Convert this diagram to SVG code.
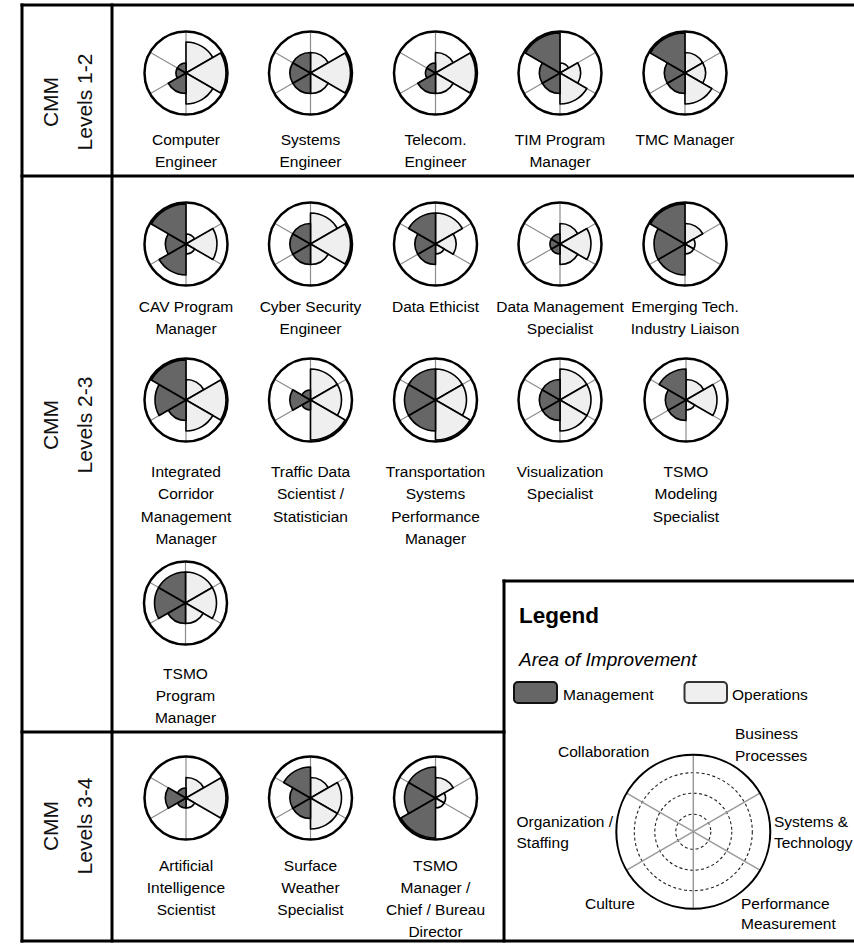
<svg xmlns="http://www.w3.org/2000/svg" width="854" height="944" viewBox="0 0 854 944">
  <style>
    .frame { stroke:#000; stroke-width:3; fill:none; stroke-linecap:square; }
    .bg { fill:#fff; }
    .axis { stroke:#8c8c8c; stroke-width:1.2; }
    .mgmt { fill:#666; stroke:#000; stroke-width:1.6; stroke-linejoin:round; }
    .ops { fill:#efefef; stroke:#000; stroke-width:1.6; stroke-linejoin:round; }
    .rim { fill:none; stroke:#000; stroke-width:2.5; }
    text { font-family:"Liberation Sans", Arial, sans-serif; fill:#000; }
    .lbl { font-size:15.5px; text-anchor:middle; }
    .band { font-size:21px; text-anchor:middle; fill:#111; }
    .legend-title { font-size:22.5px; font-weight:bold; fill:#000; }
    .legend-sub { font-size:19px; font-style:italic; }
    .lg { font-size:15.5px; }
    .ring { fill:none; stroke:#222; stroke-width:1.1; stroke-dasharray:3 2.5; }
    .laxis { stroke:#9a9a9a; stroke-width:1.5; }
  </style>
  <defs>
    <g id="axes" class="axis">
      <line x1="0" y1="-41.5" x2="0" y2="41.5"/>
      <line x1="-35.94" y1="-20.75" x2="35.94" y2="20.75"/>
      <line x1="-35.94" y1="20.75" x2="35.94" y2="-20.75"/>
    </g>
    <!-- sector wedges: bp=business processes, st=systems & technology, pm=performance measurement,
         cu=culture, os=organization/staffing, co=collaboration; suffix = level 1..4 -->
    <path id="bp1" d="M0,0 L0,-10 A10,10 0 0 1 8.66,-5 Z"/>
    <path id="bp2" d="M0,0 L0,-20.5 A20.5,20.5 0 0 1 17.75,-10.25 Z"/>
    <path id="bp3" d="M0,0 L0,-31 A31,31 0 0 1 26.85,-15.5 Z"/>
    <path id="bp4" d="M0,0 L0,-40 A40,40 0 0 1 34.64,-20 Z"/>
    <path id="st1" d="M0,0 L8.66,-5 A10,10 0 0 1 8.66,5 Z"/>
    <path id="st2" d="M0,0 L17.75,-10.25 A20.5,20.5 0 0 1 17.75,10.25 Z"/>
    <path id="st3" d="M0,0 L26.85,-15.5 A31,31 0 0 1 26.85,15.5 Z"/>
    <path id="st4" d="M0,0 L34.64,-20 A40,40 0 0 1 34.64,20 Z"/>
    <path id="pm1" d="M0,0 L8.66,5 A10,10 0 0 1 0,10 Z"/>
    <path id="pm2" d="M0,0 L17.75,10.25 A20.5,20.5 0 0 1 0,20.5 Z"/>
    <path id="pm3" d="M0,0 L26.85,15.5 A31,31 0 0 1 0,31 Z"/>
    <path id="pm4" d="M0,0 L34.64,20 A40,40 0 0 1 0,40 Z"/>
    <path id="cu1" d="M0,0 L0,10 A10,10 0 0 1 -8.66,5 Z"/>
    <path id="cu2" d="M0,0 L0,20.5 A20.5,20.5 0 0 1 -17.75,10.25 Z"/>
    <path id="cu3" d="M0,0 L0,31 A31,31 0 0 1 -26.85,15.5 Z"/>
    <path id="cu4" d="M0,0 L0,40 A40,40 0 0 1 -34.64,20 Z"/>
    <path id="os1" d="M0,0 L-8.66,5 A10,10 0 0 1 -8.66,-5 Z"/>
    <path id="os2" d="M0,0 L-17.75,10.25 A20.5,20.5 0 0 1 -17.75,-10.25 Z"/>
    <path id="os3" d="M0,0 L-26.85,15.5 A31,31 0 0 1 -26.85,-15.5 Z"/>
    <path id="os4" d="M0,0 L-34.64,20 A40,40 0 0 1 -34.64,-20 Z"/>
    <path id="co1" d="M0,0 L-8.66,-5 A10,10 0 0 1 0,-10 Z"/>
    <path id="co2" d="M0,0 L-17.75,-10.25 A20.5,20.5 0 0 1 0,-20.5 Z"/>
    <path id="co3" d="M0,0 L-26.85,-15.5 A31,31 0 0 1 0,-31 Z"/>
    <path id="co4" d="M0,0 L-34.64,-20 A40,40 0 0 1 0,-40 Z"/>
  </defs>

  <!-- frame and band dividers -->
  <g id="frame" class="frame">
    <line x1="22" y1="5" x2="854" y2="5"/>
    <line x1="22" y1="5" x2="22" y2="941"/>
    <line x1="22" y1="941" x2="854" y2="941"/>
    <line x1="112" y1="5" x2="112" y2="941"/>
    <line x1="22" y1="176" x2="854" y2="176"/>
    <line x1="22" y1="732" x2="504" y2="732"/>
    <line x1="504" y1="581" x2="504" y2="941"/>
    <line x1="504" y1="581" x2="854" y2="581"/>
  </g>

  <!-- band titles -->
  <g id="band-1-2">
    <text class="band" transform="translate(58,102) rotate(-90)">CMM</text>
    <text class="band" transform="translate(92,102) rotate(-90)">Levels 1-2</text>
  </g>
  <g id="band-2-3">
    <text class="band" transform="translate(58,425) rotate(-90)">CMM</text>
    <text class="band" transform="translate(92,425) rotate(-90)">Levels 2-3</text>
  </g>
  <g id="band-3-4">
    <text class="band" transform="translate(58,826) rotate(-90)">CMM</text>
    <text class="band" transform="translate(92,826) rotate(-90)">Levels 3-4</text>
  </g>

  <!-- Levels 1-2 -->
  <g id="computer-engineer" transform="translate(186,73)">
    <circle class="bg" r="41.5"/><use href="#axes"/>
    <use href="#bp3" class="ops"/><use href="#st4" class="ops"/><use href="#pm3" class="ops"/>
    <use href="#cu2" class="mgmt"/><use href="#os1" class="mgmt"/><use href="#co1" class="mgmt"/>
    <circle class="rim" r="41.5"/>
    <text class="lbl" y="71.5">Computer<tspan x="0" dy="22">Engineer</tspan></text>
  </g>
  <g id="systems-engineer" transform="translate(310.5,73)">
    <circle class="bg" r="41.5"/><use href="#axes"/>
    <use href="#bp2" class="ops"/><use href="#st4" class="ops"/><use href="#pm2" class="ops"/>
    <use href="#cu2" class="mgmt"/><use href="#os2" class="mgmt"/><use href="#co2" class="mgmt"/>
    <circle class="rim" r="41.5"/>
    <text class="lbl" y="71.5">Systems<tspan x="0" dy="22">Engineer</tspan></text>
  </g>
  <g id="telecom-engineer" transform="translate(435.5,73)">
    <circle class="bg" r="41.5"/><use href="#axes"/>
    <use href="#bp2" class="ops"/><use href="#st4" class="ops"/><use href="#pm2" class="ops"/>
    <use href="#cu2" class="mgmt"/><use href="#os1" class="mgmt"/><use href="#co1" class="mgmt"/>
    <circle class="rim" r="41.5"/>
    <text class="lbl" y="71.5">Telecom.<tspan x="0" dy="22">Engineer</tspan></text>
  </g>
  <g id="tim-program-manager" transform="translate(560,73)">
    <circle class="bg" r="41.5"/><use href="#axes"/>
    <use href="#bp1" class="ops"/><use href="#st2" class="ops"/><use href="#pm3" class="ops"/>
    <use href="#cu2" class="mgmt"/><use href="#os2" class="mgmt"/><use href="#co4" class="mgmt"/>
    <circle class="rim" r="41.5"/>
    <text class="lbl" y="71.5">TIM Program<tspan x="0" dy="22">Manager</tspan></text>
  </g>
  <g id="tmc-manager" transform="translate(685,73)">
    <circle class="bg" r="41.5"/><use href="#axes"/>
    <use href="#bp2" class="ops"/><use href="#st2" class="ops"/><use href="#pm3" class="ops"/>
    <use href="#cu2" class="mgmt"/><use href="#os2" class="mgmt"/><use href="#co4" class="mgmt"/>
    <circle class="rim" r="41.5"/>
    <text class="lbl" y="71.5">TMC Manager</text>
  </g>

  <!-- Levels 2-3 -->
  <g id="cav-program-manager" transform="translate(186,244)">
    <circle class="bg" r="41.5"/><use href="#axes"/>
    <use href="#bp1" class="ops"/><use href="#st3" class="ops"/><use href="#pm1" class="ops"/>
    <use href="#cu3" class="mgmt"/><use href="#os2" class="mgmt"/><use href="#co4" class="mgmt"/>
    <circle class="rim" r="41.5"/>
    <text class="lbl" y="67.5">CAV Program<tspan x="0" dy="22">Manager</tspan></text>
  </g>
  <g id="cyber-security-engineer" transform="translate(310.5,244)">
    <circle class="bg" r="41.5"/><use href="#axes"/>
    <use href="#bp3" class="ops"/><use href="#st4" class="ops"/><use href="#pm2" class="ops"/>
    <use href="#cu2" class="mgmt"/><use href="#os2" class="mgmt"/><use href="#co2" class="mgmt"/>
    <circle class="rim" r="41.5"/>
    <text class="lbl" y="67.5">Cyber Security<tspan x="0" dy="22">Engineer</tspan></text>
  </g>
  <g id="data-ethicist" transform="translate(435.5,244)">
    <circle class="bg" r="41.5"/><use href="#axes"/>
    <use href="#bp3" class="ops"/><use href="#st2" class="ops"/><use href="#pm1" class="ops"/>
    <use href="#cu2" class="mgmt"/><use href="#os2" class="mgmt"/><use href="#co3" class="mgmt"/>
    <circle class="rim" r="41.5"/>
    <text class="lbl" y="67.5">Data Ethicist</text>
  </g>
  <g id="data-management-specialist" transform="translate(560,244)">
    <circle class="bg" r="41.5"/><use href="#axes"/>
    <use href="#bp2" class="ops"/><use href="#st3" class="ops"/><use href="#pm2" class="ops"/>
    <use href="#cu1" class="mgmt"/><use href="#os1" class="mgmt"/><use href="#co1" class="mgmt"/>
    <circle class="rim" r="41.5"/>
    <text class="lbl" y="67.5">Data Management<tspan x="0" dy="22">Specialist</tspan></text>
  </g>
  <g id="emerging-tech-liaison" transform="translate(685,244)">
    <circle class="bg" r="41.5"/><use href="#axes"/>
    <use href="#bp2" class="ops"/><use href="#st1" class="ops"/><use href="#pm1" class="ops"/>
    <use href="#cu3" class="mgmt"/><use href="#os3" class="mgmt"/><use href="#co4" class="mgmt"/>
    <circle class="rim" r="41.5"/>
    <text class="lbl" y="67.5">Emerging Tech.<tspan x="0" dy="22">Industry Liaison</tspan></text>
  </g>

  <g id="icm-manager" transform="translate(186,400)">
    <circle class="bg" r="41.5"/><use href="#axes"/>
    <use href="#bp2" class="ops"/><use href="#st4" class="ops"/><use href="#pm3" class="ops"/>
    <use href="#cu2" class="mgmt"/><use href="#os3" class="mgmt"/><use href="#co4" class="mgmt"/>
    <circle class="rim" r="41.5"/>
    <text class="lbl" y="76.5">Integrated<tspan x="0" dy="22.5">Corridor</tspan><tspan x="0" dy="22.5">Management</tspan><tspan x="0" dy="22.5">Manager</tspan></text>
  </g>
  <g id="traffic-data-scientist" transform="translate(310.5,400)">
    <circle class="bg" r="41.5"/><use href="#axes"/>
    <use href="#bp3" class="ops"/><use href="#st3" class="ops"/><use href="#pm4" class="ops"/>
    <use href="#cu1" class="mgmt"/><use href="#os2" class="mgmt"/><use href="#co1" class="mgmt"/>
    <circle class="rim" r="41.5"/>
    <text class="lbl" y="76.5">Traffic Data<tspan x="0" dy="22.5">Scientist /</tspan><tspan x="0" dy="22.5">Statistician</tspan></text>
  </g>
  <g id="tsp-manager" transform="translate(435.5,400)">
    <circle class="bg" r="41.5"/><use href="#axes"/>
    <use href="#bp3" class="ops"/><use href="#st3" class="ops"/><use href="#pm4" class="ops"/>
    <use href="#cu3" class="mgmt"/><use href="#os3" class="mgmt"/><use href="#co3" class="mgmt"/>
    <circle class="rim" r="41.5"/>
    <text class="lbl" y="76.5">Transportation<tspan x="0" dy="22.5">Systems</tspan><tspan x="0" dy="22.5">Performance</tspan><tspan x="0" dy="22.5">Manager</tspan></text>
  </g>
  <g id="visualization-specialist" transform="translate(560,400)">
    <circle class="bg" r="41.5"/><use href="#axes"/>
    <use href="#bp3" class="ops"/><use href="#st3" class="ops"/><use href="#pm3" class="ops"/>
    <use href="#cu2" class="mgmt"/><use href="#os2" class="mgmt"/><use href="#co2" class="mgmt"/>
    <circle class="rim" r="41.5"/>
    <text class="lbl" y="76.5">Visualization<tspan x="0" dy="22.5">Specialist</tspan></text>
  </g>
  <g id="tsmo-modeling-specialist" transform="translate(686,400)">
    <circle class="bg" r="41.5"/><use href="#axes"/>
    <use href="#bp2" class="ops"/><use href="#st3" class="ops"/><use href="#pm1" class="ops"/>
    <use href="#cu2" class="mgmt"/><use href="#os2" class="mgmt"/><use href="#co3" class="mgmt"/>
    <circle class="rim" r="41.5"/>
    <text class="lbl" y="76.5">TSMO<tspan x="0" dy="22.5">Modeling</tspan><tspan x="0" dy="22.5">Specialist</tspan></text>
  </g>

  <g id="tsmo-program-manager" transform="translate(185.5,603)">
    <circle class="bg" r="41.5"/><use href="#axes"/>
    <use href="#bp3" class="ops"/><use href="#st3" class="ops"/><use href="#pm2" class="ops"/>
    <use href="#cu2" class="mgmt"/><use href="#os3" class="mgmt"/><use href="#co3" class="mgmt"/>
    <circle class="rim" r="41.5"/>
    <text class="lbl" y="75.5">TSMO<tspan x="0" dy="22">Program</tspan><tspan x="0" dy="22">Manager</tspan></text>
  </g>

  <!-- Levels 3-4 -->
  <g id="ai-scientist" transform="translate(186,798)">
    <circle class="bg" r="41.5"/><use href="#axes"/>
    <use href="#bp2" class="ops"/><use href="#st4" class="ops"/><use href="#pm1" class="ops"/>
    <use href="#cu1" class="mgmt"/><use href="#os2" class="mgmt"/><use href="#co1" class="mgmt"/>
    <circle class="rim" r="41.5"/>
    <text class="lbl" y="72.5">Artificial<tspan x="0" dy="22">Intelligence</tspan><tspan x="0" dy="22">Scientist</tspan></text>
  </g>
  <g id="surface-weather-specialist" transform="translate(310.5,798)">
    <circle class="bg" r="41.5"/><use href="#axes"/>
    <use href="#bp2" class="ops"/><use href="#st3" class="ops"/><use href="#pm3" class="ops"/>
    <use href="#cu2" class="mgmt"/><use href="#os2" class="mgmt"/><use href="#co3" class="mgmt"/>
    <circle class="rim" r="41.5"/>
    <text class="lbl" y="72.5">Surface<tspan x="0" dy="22">Weather</tspan><tspan x="0" dy="22">Specialist</tspan></text>
  </g>
  <g id="tsmo-manager-director" transform="translate(435.5,798)">
    <circle class="bg" r="41.5"/><use href="#axes"/>
    <use href="#bp2" class="ops"/><use href="#st1" class="ops"/><use href="#pm1" class="ops"/>
    <use href="#cu4" class="mgmt"/><use href="#os3" class="mgmt"/><use href="#co3" class="mgmt"/>
    <circle class="rim" r="41.5"/>
    <text class="lbl" y="72.5">TSMO<tspan x="0" dy="22">Manager /</tspan><tspan x="0" dy="22">Chief / Bureau</tspan><tspan x="0" dy="22">Director</tspan></text>
  </g>

  <!-- legend -->
  <g id="legend">
    <text class="legend-title" x="519" y="622.5">Legend</text>
    <text class="legend-sub" x="519" y="666">Area of Improvement</text>
    <rect x="514" y="682" width="43" height="21" rx="4" fill="#666" stroke="#111" stroke-width="2"/>
    <text class="lg" x="563" y="700">Management</text>
    <rect x="684.5" y="682" width="42.5" height="21" rx="4" fill="#efefef" stroke="#333" stroke-width="2"/>
    <text class="lg" x="732" y="700">Operations</text>
    <g id="legend-radar" transform="translate(693.3,831.7)">
      <circle r="77" fill="#fff"/>
      <circle class="ring" r="17.5"/>
      <circle class="ring" r="38.5"/>
      <circle class="ring" r="59"/>
      <line class="laxis" x1="0" y1="-77" x2="0" y2="77"/>
      <line class="laxis" x1="-66.68" y1="-38.5" x2="66.68" y2="38.5"/>
      <line class="laxis" x1="-66.68" y1="38.5" x2="66.68" y2="-38.5"/>
      <circle r="77" fill="none" stroke="#000" stroke-width="2"/>
    </g>
    <text class="lg" x="735" y="739">Business<tspan x="735" dy="21.5">Processes</tspan></text>
    <text class="lg" x="558" y="756.5">Collaboration</text>
    <text class="lg" x="516.5" y="826.5">Organization /<tspan x="516.5" dy="21.5">Staffing</tspan></text>
    <text class="lg" x="774" y="826.5">Systems &amp;<tspan x="774" dy="21.5">Technology</tspan></text>
    <text class="lg" x="585" y="908.5">Culture</text>
    <text class="lg" x="741" y="908.5">Performance<tspan x="741" dy="20">Measurement</tspan></text>
  </g>
</svg>
